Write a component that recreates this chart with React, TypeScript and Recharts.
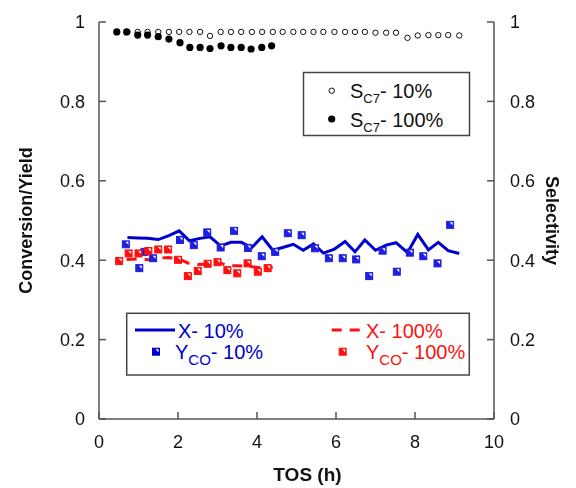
import React from 'react';
import { ComposedChart, Line, Scatter, XAxis, YAxis, Label } from 'recharts';

// time on stream (h) and values
const tos10 = [0.72, 0.98, 1.23, 1.5, 1.77, 2.03, 2.29, 2.56, 2.81, 3.08, 3.34, 3.6, 3.87, 4.13, 4.4, 4.65, 4.92, 5.17, 5.43, 5.68, 5.96, 6.23, 6.48, 6.73, 7.0, 7.27, 7.52, 7.81, 8.07, 8.34, 8.59, 8.84, 9.12];
const conv10 = [0.457, 0.456, 0.455, 0.452, 0.462, 0.474, 0.449, 0.455, 0.459, 0.436, 0.445, 0.445, 0.432, 0.459, 0.425, 0.432, 0.44, 0.425, 0.441, 0.418, 0.428, 0.447, 0.421, 0.451, 0.425, 0.438, 0.444, 0.419, 0.465, 0.426, 0.445, 0.424, 0.417];
const sel10 = [0.975, 0.975, 0.975, 0.975, 0.975, 0.975, 0.975, 0.975, 0.965, 0.975, 0.975, 0.975, 0.975, 0.975, 0.975, 0.975, 0.975, 0.975, 0.975, 0.975, 0.975, 0.975, 0.975, 0.975, 0.973, 0.973, 0.973, 0.96, 0.966, 0.967, 0.967, 0.967, 0.966];

const tosSel100 = [0.45, 0.7, 0.98, 1.23, 1.5, 1.77, 2.05, 2.3, 2.56, 2.81, 3.09, 3.34, 3.6, 3.85, 4.12, 4.37];
const sel100 = [0.975, 0.975, 0.967, 0.967, 0.963, 0.957, 0.948, 0.936, 0.936, 0.933, 0.94, 0.936, 0.936, 0.932, 0.936, 0.94];

const tosConv100 = [0.7, 1.0, 1.25, 1.5, 1.75, 2.0, 2.25, 2.5, 2.75, 3.0, 3.25, 3.5, 3.75, 4.0, 4.25, 4.4];
const conv100 = [0.402, 0.403, 0.401, 0.405, 0.407, 0.404, 0.393, 0.389, 0.39, 0.396, 0.386, 0.386, 0.385, 0.382, 0.381, 0.382];

const tosYield10 = [0.68, 1.02, 1.15, 1.37, 2.05, 2.4, 2.74, 3.08, 3.42, 3.77, 4.12, 4.46, 4.78, 5.13, 5.47, 5.82, 6.17, 6.51, 6.84, 7.18, 7.54, 7.87, 8.21, 8.57, 8.89];
const yield10 = [0.44, 0.38, 0.421, 0.405, 0.451, 0.438, 0.47, 0.432, 0.474, 0.431, 0.41, 0.421, 0.468, 0.463, 0.43, 0.405, 0.405, 0.402, 0.36, 0.424, 0.371, 0.419, 0.41, 0.392, 0.489];

const tosYield100 = [0.51, 0.75, 1.0, 1.25, 1.5, 1.75, 2.0, 2.25, 2.5, 2.75, 3.0, 3.25, 3.5, 3.76, 4.02, 4.27];
const yield100 = [0.398, 0.417, 0.417, 0.423, 0.427, 0.427, 0.401, 0.36, 0.373, 0.391, 0.395, 0.375, 0.367, 0.392, 0.371, 0.38];

const xTicks = [0, 2, 4, 6, 8, 10];
const yTicks = [0, 0.2, 0.4, 0.6, 0.8, 1];

const BLUE = '#0000cc';
const RED = '#ff1010';
const AXIS = '#555';
const FONT = '"Liberation Sans", Arial, sans-serif';

const pts = (xs: number[], ys: number[]) => xs.map((x, i) => ({ x, y: ys[i] }));

const OpenCircle = (p: any) => (
  <circle cx={p.cx} cy={p.cy} r={2.7} fill="#fff" stroke="#111" strokeWidth={1} />
);
const FilledCircle = (p: any) => <circle cx={p.cx} cy={p.cy} r={3.6} fill="#000" />;

const halfSquare = (color: string) => (p: any) => {
  const { cx, cy } = p;
  const h = 3.5;
  return (
    <g>
      <rect x={cx - h} y={cy - h} width={2 * h} height={2 * h} fill={color} stroke={color} strokeWidth={1} />
      <polygon points={`${cx - 0.5},${cy - h + 1} ${cx + h - 1},${cy - h + 1} ${cx + h - 1},${cy + 0.5}`} fill="#fff" />
    </g>
  );
};

const tickStyle = { fontSize: 18, fill: '#111', fontFamily: FONT };

// legend boxes drawn over the chart (page coordinates)
const Legends = () => (
  <svg width={576} height={488} style={{ position: 'absolute', left: 0, top: 0, pointerEvents: 'none' }} fontFamily={FONT}>
    <rect x={303.5} y={72.5} width={166} height={63} fill="#fff" stroke="#444" strokeWidth={1.5} />
    <circle cx={331.7} cy={90.7} r={2.7} fill="#fff" stroke="#111" strokeWidth={1} />
    <text x={350} y={98} fontSize={20} fill="#111">
      S<tspan fontSize={13} dy={5}>C7</tspan><tspan dy={-5}>- 10%</tspan>
    </text>
    <circle cx={331.7} cy={119} r={3.6} fill="#000" />
    <text x={350} y={126.5} fontSize={20} fill="#111">
      S<tspan fontSize={13} dy={5}>C7</tspan><tspan dy={-5}>- 100%</tspan>
    </text>

    <rect x={126.7} y={313.3} width={342.6} height={61.7} fill="#fff" stroke="#444" strokeWidth={1.5} />
    <line x1={135} y1={330} x2={175} y2={330} stroke={BLUE} strokeWidth={3} />
    <text x={178} y={338} fontSize={20} fill={BLUE}>X- 10%</text>
    <line x1={331.7} y1={330} x2={360} y2={330} stroke={RED} strokeWidth={3} strokeDasharray="10 8" />
    <text x={366} y={338} fontSize={20} fill={RED}>X- 100%</text>
    {halfSquare(BLUE)({ cx: 156, cy: 351.7 })}
    <text x={175} y={359} fontSize={20} fill={BLUE}>
      Y<tspan fontSize={15} dy={6}>CO</tspan><tspan dy={-6}>- 10%</tspan>
    </text>
    {halfSquare(RED)({ cx: 342.7, cy: 351.7 })}
    <text x={366} y={359} fontSize={20} fill={RED}>
      Y<tspan fontSize={15} dy={6}>CO</tspan><tspan dy={-6}>- 100%</tspan>
    </text>
  </svg>
);

const App = () => {
  return (
    <div style={{ position: 'fixed', left: 0, top: 0, width: 576, height: 488, fontFamily: FONT }}>
      <ComposedChart width={576} height={488} margin={{ top: 22, right: 0, left: 0, bottom: 0 }}>
        <XAxis
          dataKey="x"
          type="number"
          domain={[0, 10]}
          ticks={xTicks}
          height={69}
          tickSize={-7}
          tickMargin={23}
          tick={tickStyle}
          stroke={AXIS}
          strokeWidth={1.5}
        >
          <Label
            content={() => (
              <text x={307.5} y={481} textAnchor="middle" fontSize={19} fontWeight="bold" fill="#111" fontFamily={FONT}>
                TOS (h)
              </text>
            )}
          />
        </XAxis>
        <XAxis xAxisId="top" orientation="top" type="number" domain={[0, 10]} height={0} tick={false} tickLine={false} stroke={AXIS} strokeWidth={1.5} />
        <YAxis
          yAxisId="left"
          type="number"
          domain={[0, 1]}
          ticks={yTicks}
          width={99}
          tickSize={-7}
          tickMargin={21}
          tick={tickStyle}
          stroke={AXIS}
          strokeWidth={1.5}
        >
          <Label
            content={() => (
              <text x={32} y={220.5} transform="rotate(-90 32 220.5)" textAnchor="middle" fontSize={18} fontWeight="bold" fill="#111" fontFamily={FONT}>
                Conversion/Yield
              </text>
            )}
          />
        </YAxis>
        <YAxis
          yAxisId="right"
          orientation="right"
          type="number"
          domain={[0, 1]}
          ticks={yTicks}
          width={82}
          tickSize={-7}
          tickMargin={23}
          tick={tickStyle}
          stroke={AXIS}
          strokeWidth={1.5}
        >
          <Label
            content={() => (
              <text x={546} y={220.5} transform="rotate(90 546 220.5)" textAnchor="middle" fontSize={18} fontWeight="bold" fill="#111" fontFamily={FONT}>
                Selectivity
              </text>
            )}
          />
        </YAxis>

        <Line yAxisId="left" data={pts(tosConv100, conv100)} dataKey="y" type="linear" stroke={RED} strokeWidth={3} strokeDasharray="10 8" dot={false} isAnimationActive={false} />
        <Line yAxisId="left" data={pts(tos10, conv10)} dataKey="y" type="linear" stroke={BLUE} strokeWidth={3} dot={false} isAnimationActive={false} />
        <Scatter yAxisId="left" data={pts(tosYield10, yield10)} dataKey="y" shape={halfSquare('#1f1fe0')} isAnimationActive={false} />
        <Scatter yAxisId="left" data={pts(tosYield100, yield100)} dataKey="y" shape={halfSquare(RED)} isAnimationActive={false} />
        <Scatter yAxisId="right" data={pts(tos10, sel10)} dataKey="y" shape={OpenCircle} isAnimationActive={false} />
        <Scatter yAxisId="right" data={pts(tosSel100, sel100)} dataKey="y" shape={FilledCircle} isAnimationActive={false} />
      </ComposedChart>
      <Legends />
    </div>
  );
};

export default App;
